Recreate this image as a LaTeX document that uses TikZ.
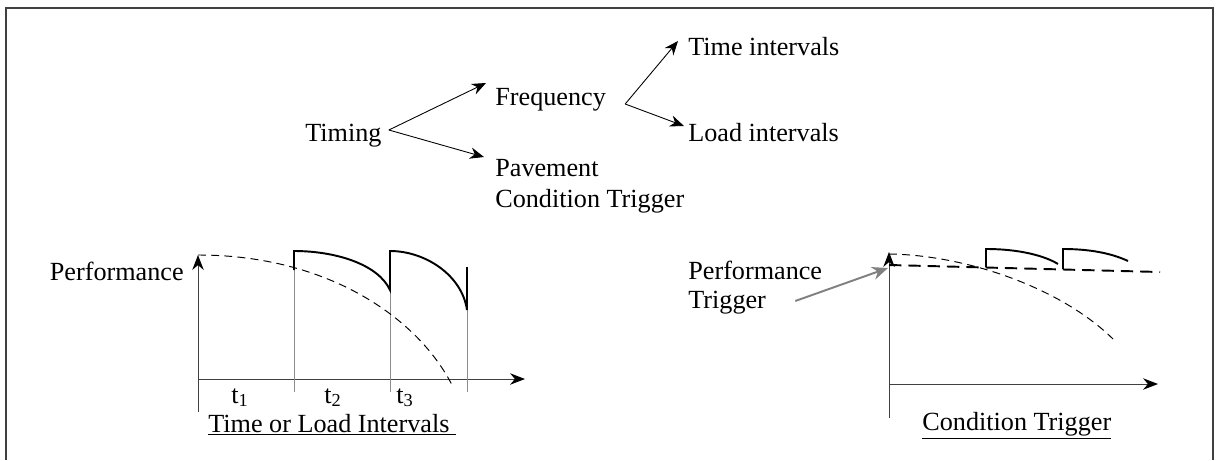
\documentclass[tikz,border=0pt]{standalone}
\usepackage{fontspec}
\setmainfont{Liberation Serif}
\usetikzlibrary{arrows.meta, calc}

\begin{document}
\begin{tikzpicture}[x=0.02cm, y=-0.02cm,
    lbl/.style={inner sep=0pt, anchor=base west, font=\fontsize{14.9}{18}\selectfont},
    tree/.style={-{Stealth[length=8pt, width=6.5pt]}, line width=0.5pt},
    axis/.style={-{Stealth[length=8.5pt, width=6.5pt, black]}, line width=0.55pt, draw=black!75},
    guide/.style={line width=0.55pt, draw=black!45},
    decay/.style={line width=0.55pt, dash pattern=on 4.5pt off 3pt},
    renew/.style={line width=1.1pt},
    threshold/.style={line width=1.1pt, dash pattern=on 7pt off 4pt},
    trigarrow/.style={-{Stealth[length=9pt, width=7.5pt]}, line width=1.1pt, draw=black!50},
    frame/.style={line width=1pt, draw=black!75}]
    \useasboundingbox (0,0) rectangle (1217,460);
    \draw[frame] (6,460) -- (6,8) -- (1213,8) -- (1213,460);

    % timing tree
    \node[lbl] (timing)  at (305,141) {Timing};
    \node[lbl] (freq)    at (495,105) {Frequency};
    \node[lbl] (pave)    at (495,176) {Pavement};
    \node[lbl] (cond)    at (495,207) {Condition Trigger};
    \node[lbl] (timeint) at (688,55)  {Time intervals};
    \node[lbl] (loadint) at (688,141) {Load intervals};

    \draw[tree] ($(timing.base east)+(7,-11)$) -- ($(freq.base west)+(-9,-22)$);
    \draw[tree] ($(timing.base east)+(7,-11)$) -- ($(pave.base west)+(-11,-19)$);
    \draw[tree] ($(freq.base east)+(19,-1)$) -- ($(timeint.base west)+(-10,-14)$);
    \draw[tree] ($(freq.base east)+(19,-1)$) -- ($(loadint.base west)+(-4,-15)$);

    % left chart: time or load intervals
    \coordinate (o1) at (198,379);
    \draw[axis] (198,412) -- (198,255);
    \draw[axis] (o1) -- (525,379);
    \draw[guide] (294,270) -- (294,392);
    \draw[guide] (390,290) -- (390,392);
    \draw[guide] (467,310) -- (467,392);
    \draw[decay] (198,255) .. controls (330,255) and (420,320) .. (453,387);
    \draw[renew] (294,270) -- (294,251) .. controls (335,251) and (378,264) .. (390,290)
        -- (390,251) .. controls (425,251) and (462,275) .. (467,310) -- (467,267);
    \node[lbl, anchor=base east] (perf1) at (184,280) {Performance};
    \node[lbl, anchor=base] (t1) at (240,403) {t\textsubscript{1}};
    \node[lbl, anchor=base] (t2) at (333,403) {t\textsubscript{2}};
    \node[lbl, anchor=base] (t3) at (405,403) {t\textsubscript{3}};
    \node[lbl] (cap1) at (208,432) {\underline{Time or Load Intervals~}};

    % right chart: condition trigger
    \coordinate (o2) at (889,384);
    \coordinate (thr) at (888,268);
    \draw[axis] (889,418) -- (889,252);
    \draw[axis] (o2) -- (1158,384);
    \draw[decay] (889,254) .. controls (965,255) and (1060,287) .. (1113,339);
    \draw[threshold] (889,265) -- (1160,272);
    \draw[renew] (986,267) -- (986,249) .. controls (1020,249) and (1045,256) .. (1058,264);
    \draw[renew] (1063,269) -- (1063,249) .. controls (1095,249) and (1115,255) .. (1128,261);
    \node[lbl] (perf2) at (688,279) {Performance};
    \node[lbl] (trig)  at (688,308) {Trigger};
    \draw[trigarrow] ($(trig.base east)+(29,-7)$) -- (thr);
    \node[lbl] (cap2) at (922,430) {\underline{Condition Trigger}};
\end{tikzpicture}
\end{document}
